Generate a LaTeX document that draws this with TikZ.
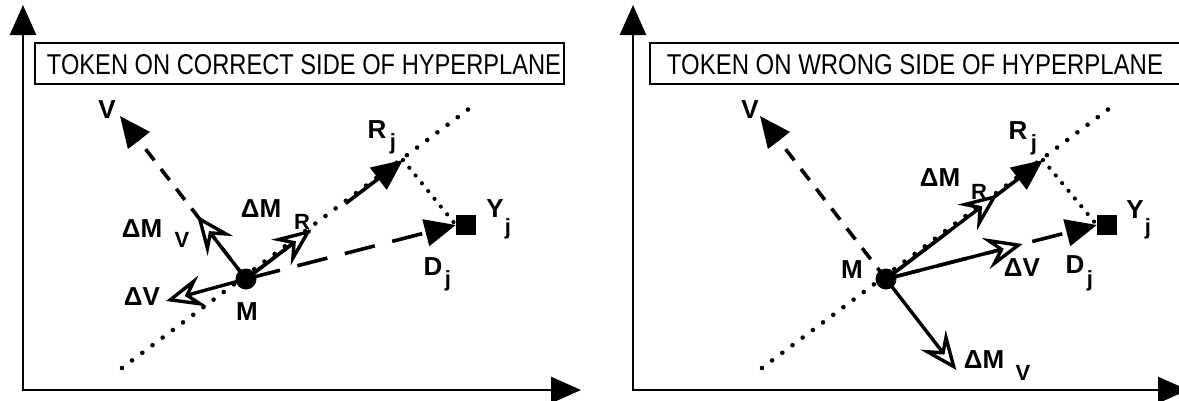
\documentclass[tikz,border=0pt]{standalone}
\usepackage{graphicx}
\usepackage{fontspec}
\setmainfont{Liberation Sans}
\usetikzlibrary{arrows.meta,calc}
\begin{document}
\begin{tikzpicture}[x=1pt,y=-1pt,
  axis/.style={line width=2.6pt,{Triangle[length=30pt,width=26pt]}-{Triangle[length=30pt,width=26pt]}},
  plane/.style={line width=4.6pt,line cap=round,dash pattern=on 0pt off 12.7pt},
  foot/.style={line width=4.2pt,line cap=round,dash pattern=on 0pt off 10pt},
  head/.style={-{Triangle[length=31pt,width=27pt]}},
  vline/.style={head,line width=3.6pt,dash pattern=on 14pt off 11pt},
  dline/.style={head,line width=3.6pt,dash pattern=on 31pt off 18pt,dash phase=45pt},
  rline/.style={head,line width=3.6pt,dash pattern=on 80pt off 45pt on 60pt off 20pt},
  hollow/.style={line width=3.4pt,-{Stealth[fill=white,length=38pt,width=32pt,inset=14pt]}},
  mdot/.style={circle,fill,inner sep=0pt,minimum size=21pt},
  ysq/.style={fill,inner sep=0pt,minimum size=20pt},
  lab/.style={inner sep=0pt,font=\bfseries\fontsize{26}{26}\selectfont},
  sublab/.style={inner sep=0pt,font=\bfseries\fontsize{22}{22}\selectfont},
  titlebox/.style={draw,line width=2.6pt,inner sep=0pt,minimum height=41pt},
  titletext/.style={inner sep=0pt}
]
\useasboundingbox (0,0) rectangle (1179,400);
\clip (0,0) rectangle (1179,400);

% ---------------- left panel: token on the correct side ----------------
\coordinate (O1) at (23,390);
\coordinate (YA1) at (23,5);
\coordinate (XA1) at (581,390);
\draw[axis] (YA1) -- (O1) -- (XA1);

\node[titlebox,minimum width=529pt] (T1) at (299.5,63.5) {};
\node[titletext] (T1t) at (304,65) {\resizebox{514pt}{20pt}{TOKEN ON CORRECT SIDE OF HYPERPLANE}};

\coordinate (P1a) at (122,368);
\coordinate (P1b) at (478,102);
\coordinate (R1) at (403,160);
\coordinate (V1) at (120,116);
\node[mdot] (M1) at (246,279) {};
\node[ysq] (Y1) at (466,225) {};

\draw[plane] (P1a) -- (P1b);
\draw[foot] (R1) -- (Y1.west);
\draw[vline] (M1.center) -- (V1);
\draw[dline] (M1.center) -- (Y1.west);
\draw[rline] (M1.center) -- (R1);

\coordinate (dMV1) at ($(M1.center)!80pt!(V1)$);
\coordinate (dMR1) at ($(M1.center)!82pt!(R1)$);
\coordinate (dV1) at (166,301);
\draw[hollow] (M1.center) -- (dMV1);
\draw[hollow] (M1.center) -- (dMR1);
\draw[hollow] (M1.center) -- (dV1);

\node[lab] (lV1) at (107,110) {V};
\node[lab] (lR1) at (377,130) {R};
\node[sublab] (lR1s) at (393,144) {j};
\node[lab] (lMR1) at (261,209) {ΔM};
\node[sublab] (lMR1s) at (302,222) {R};
\node[lab] (lMV1) at (142,229) {ΔM};
\node[sublab] (lMV1s) at (182,240) {V};
\node[lab] (lDV1) at (142,297) {ΔV};
\node[lab] (lM1) at (247,312) {M};
\node[lab] (lY1) at (495,209) {Y};
\node[sublab] (lY1s) at (508,229) {j};
\node[lab] (lD1) at (433,267) {D};
\node[sublab] (lD1s) at (448,281) {j};

% ---------------- right panel: token on the wrong side ----------------
\coordinate (O2) at (633,390);
\coordinate (YA2) at (633,5);
\coordinate (XA2) at (1188,390);
\draw[axis] (YA2) -- (O2) -- (XA2);

\node[titlebox,minimum width=540pt] (T2) at (920,63.5) {};
\node[titletext] (T2t) at (915,65) {\resizebox{496pt}{20pt}{TOKEN ON WRONG SIDE OF HYPERPLANE}};

\coordinate (P2a) at (762,368);
\coordinate (P2b) at (1118,102);
\coordinate (R2) at (1043,160);
\coordinate (V2) at (760,116);
\node[mdot] (M2) at (886,279) {};
\node[ysq] (Y2) at (1107,225) {};

\draw[plane] (P2a) -- (P2b);
\draw[foot] (R2) -- (Y2.west);
\draw[vline] (M2.center) -- (V2);
\draw[dline] (M2.center) -- (Y2.west);
\draw[rline] (M2.center) -- (R2);

\coordinate (dMR2) at ($(M2.center)!140pt!(R2)$);
\coordinate (dV2) at ($(M2.center)!141pt!(Y2.west)$);
\coordinate (dMV2) at ($(M2.center)!-115pt!(V2)$);
\draw[hollow] (M2.center) -- (dMR2);
\draw[hollow] (M2.center) -- (dV2);
\draw[hollow] (M2.center) -- (dMV2);

\node[lab] (lV2) at (750,110) {V};
\node[lab] (lR2) at (1018,131) {R};
\node[sublab] (lR2s) at (1034,145) {j};
\node[lab] (lMR2) at (940,178) {ΔM};
\node[sublab] (lMR2s) at (979,192) {R};
\node[lab] (lDV2) at (1022,268) {ΔV};
\node[lab] (lD2) at (1075,265) {D};
\node[sublab] (lD2s) at (1090,281) {j};
\node[lab] (lY2) at (1135,210) {Y};
\node[sublab] (lY2s) at (1148,229) {j};
\node[lab] (lM2) at (852,270) {M};
\node[lab] (lMV2) at (984,360) {ΔM};
\node[sublab] (lMV2s) at (1023,373) {V};
\end{tikzpicture}
\end{document}
